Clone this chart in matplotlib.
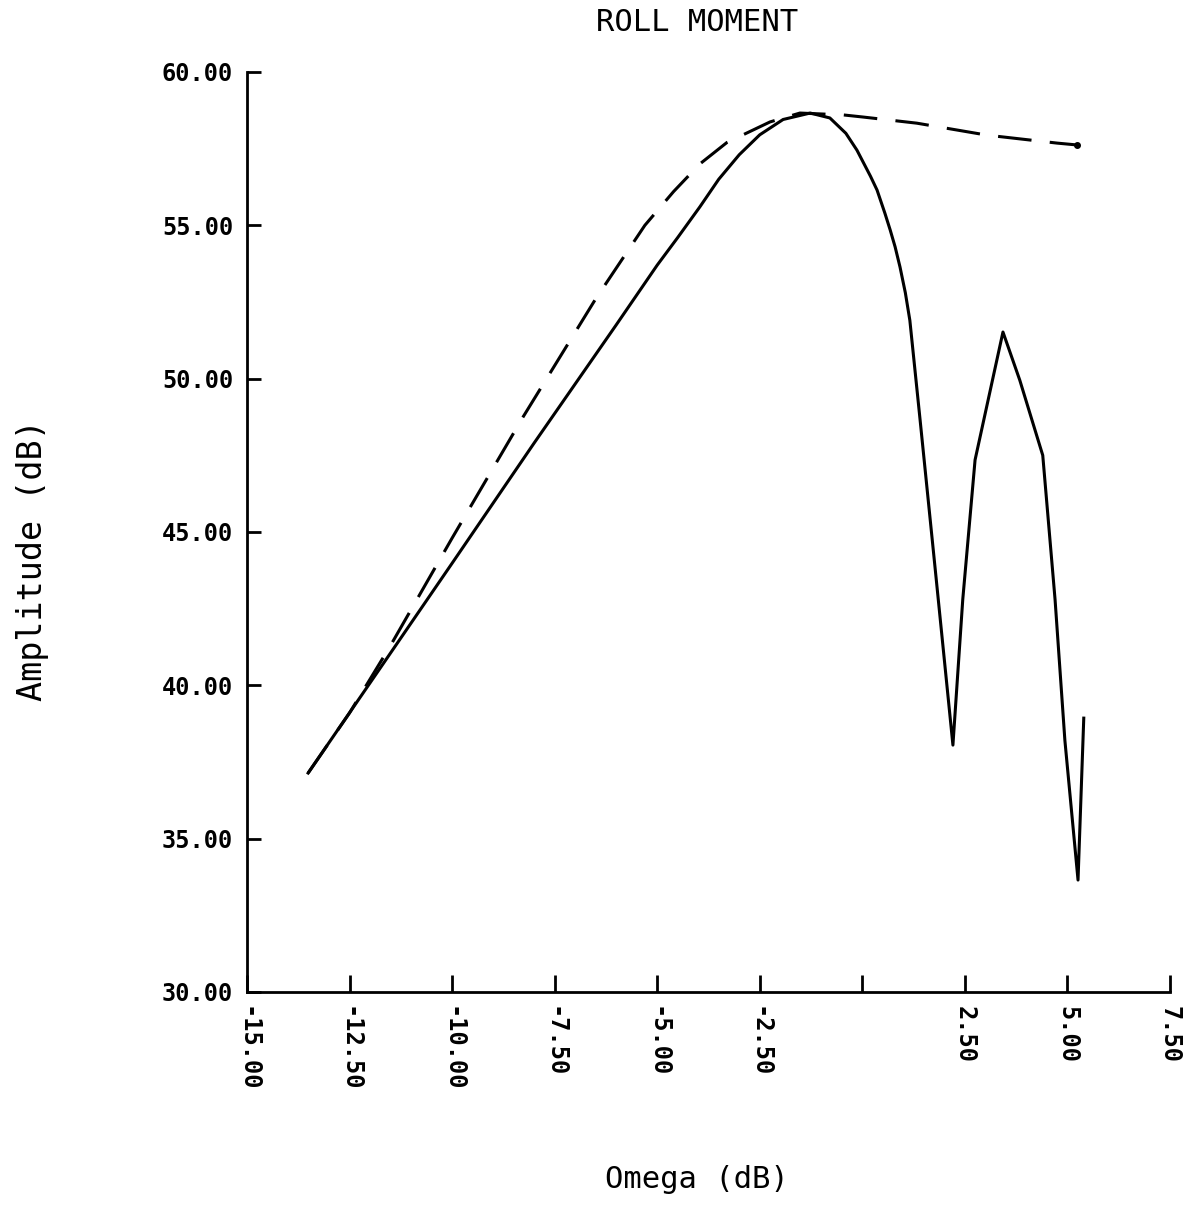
import matplotlib
matplotlib.use("Agg")
from matplotlib import pyplot as plt
import numpy as np

# roll moment amplitude vs omega (both in dB)
omega_solid = [-13.51, -12.0, -10.0, -8.0, -6.0, -5.0, -4.5, -3.96, -3.5, -3.0,
               -2.5, -1.93, -1.27, -0.79, -0.4, -0.13, 0.2, 0.36, 0.55, 0.68,
               0.8, 0.92, 1.05, 1.16, 1.41, 1.80, 2.21,
               2.45, 2.75, 3.43, 3.84, 4.40, 4.70, 4.94, 5.26, 5.40]
amp_solid = [37.14, 40.08, 43.98, 47.9, 51.75, 53.7, 54.6, 55.6, 56.5, 57.3,
             57.95, 58.45, 58.66, 58.5, 58.0, 57.45, 56.6, 56.15, 55.4, 54.85,
             54.3, 53.64, 52.8, 51.9, 48.65, 43.5, 38.05,
             42.8, 47.35, 51.52, 49.95, 47.5, 42.8, 38.2, 33.65, 38.93]

omega_dash = [-13.51, -12.5, -11.5, -10.0, -8.27, -6.5, -5.3, -4.6, -3.96, -3.3,
              -2.25, -1.52, -0.47, 0.02, 1.33, 3.04, 4.75, 5.23]
amp_dash = [37.14, 39.1, 41.3, 44.8, 48.75, 52.6, 55.0, 56.1, 57.0, 57.7,
            58.37, 58.66, 58.6, 58.53, 58.33, 57.94, 57.68, 57.62]

xticks = [-15.0, -12.5, -10.0, -7.5, -5.0, -2.5, 0.0, 2.5, 5.0, 7.5]
xticklabels = ["-15.00", "-12.50", "-10.00", "-7.50", "-5.00", "-2.50", "",
               "2.50", "5.00", "7.50"]
yticks = [30, 35, 40, 45, 50, 55, 60]
yticklabels = ["30.00", "35.00", "40.00", "45.00", "50.00", "55.00", "60.00"]

plt.rcParams['font.family'] = ['DejaVu Sans Mono', 'DejaVu Sans']
plt.rcParams['font.weight'] = 'bold'

fig = plt.figure(figsize=(11.95, 12.3), dpi=100)
ax = fig.add_axes([0.2067, 0.1935, 0.7723, 0.748])

ax.plot(omega_solid, amp_solid, color='black', lw=2.2)
ax.plot(omega_dash, amp_dash, color='black', lw=2.2, dashes=(11, 6),
        marker='o', markersize=4, markevery=[len(omega_dash) - 1])

ax.set_xlim(-15, 7.5)
ax.set_ylim(30, 60)
ax.spines['top'].set_visible(False)
ax.spines['right'].set_visible(False)
ax.spines['left'].set_linewidth(2)
ax.spines['bottom'].set_linewidth(2)

ax.set_xticks(xticks)
ax.set_xticklabels(xticklabels, rotation=270, va='top', ha='center')
ax.set_yticks(yticks)
ax.set_yticklabels(yticklabels)
ax.tick_params(axis='x', direction='in', length=12, width=2, labelsize=17, pad=10)
ax.tick_params(axis='y', direction='in', length=10, width=2, labelsize=17, pad=10)

fig.text(0.583, 0.982, "ROLL MOMENT", ha='center', va='center', fontsize=22,
         fontweight='normal')
fig.text(0.583, 0.041, "Omega (dB)", ha='center', va='center', fontsize=22,
         fontweight='normal')
fig.text(0.027, 0.545, "Amplitude (dB)", ha='center', va='center',
         rotation=90, fontsize=24, fontweight='normal')

plt.savefig('out.png', dpi=100)
